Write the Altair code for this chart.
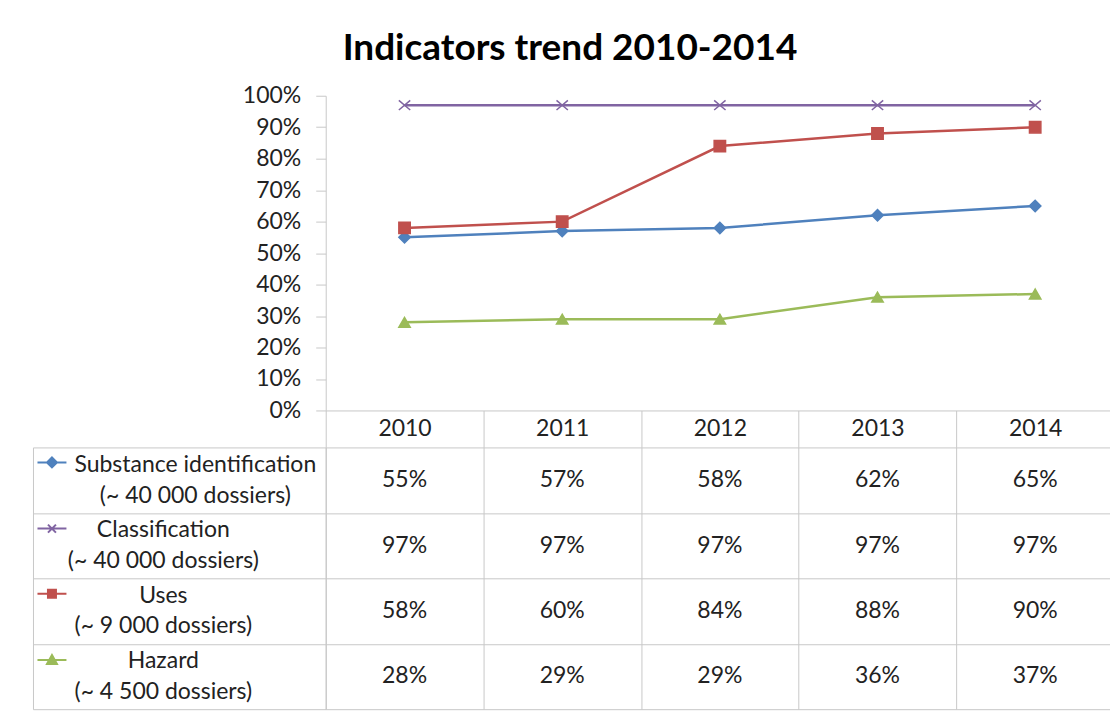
import altair as alt
import pandas as pd

# ---- data ----
years = ["2010", "2011", "2012", "2013", "2014"]
series = ["Substance identification", "Classification", "Uses", "Hazard"]
dossiers = ["(~ 40 000 dossiers)", "(~ 40 000 dossiers)", "(~ 9 000 dossiers)", "(~ 4 500 dossiers)"]
substance = [55, 57, 58, 62, 65]
classification = [97, 97, 97, 97, 97]
uses = [58, 60, 84, 88, 90]
hazard = [28, 29, 29, 36, 37]
colors = ["#4F81BD", "#8064A2", "#C0504D", "#9BBB59"]

values = [substance, classification, uses, hazard]
rowlabels = [s + "\n" + d for s, d in zip(series, dossiers)]

rows = []
for s, rl, vals in zip(series, rowlabels, values):
    for y, v in zip(years, vals):
        rows.append({"series": s, "rowlabel": rl, "year": y, "value": v / 100, "text": f"{v}%"})
df = pd.DataFrame(rows)
df_series = pd.DataFrame({"series": series, "rowlabel": rowlabels})

FONT = "Lato"
TXT = "#222222"
GRID = "#c8c8c8"
W, H_TOP, H_TBL = 789, 315, 262
LEFTCOL = 293

band = alt.Scale(type="band", paddingInner=0, paddingOuter=0)
xpath = "M-1,-0.85L1,0.85M-1,0.85L1,-0.85"

# ---- top line chart ----
x_top = alt.X("year:O", sort=years, scale=band,
              axis=alt.Axis(title=None, tickBand="extent", tickSize=37, tickColor=GRID,
                            domainColor=GRID, labelAngle=0, labelPadding=-18.5,
                            labelBaseline="middle", labelFontSize=23, labelFont=FONT,
                            labelColor=TXT))
y_top = alt.Y("value:Q", scale=alt.Scale(domain=[0, 1], nice=False),
              axis=alt.Axis(title=None, format=".0%", values=[i / 10 for i in range(11)],
                            grid=False, tickSize=10, tickColor=GRID, domainColor=GRID,
                            labelPadding=15, labelFontSize=23, labelFont=FONT,
                            labelColor=TXT))
col_scale = alt.Scale(domain=series, range=colors)

lines = alt.Chart(df).mark_line(strokeWidth=2.5).encode(
    x=x_top, y=y_top,
    color=alt.Color("series:N", sort=series, scale=col_scale, legend=None),
)
points = alt.Chart(df).mark_point(filled=True, size=130, strokeWidth=1.5, opacity=1).encode(
    x=x_top, y=y_top,
    fill=alt.Fill("series:N", sort=series, scale=col_scale, legend=None),
    stroke=alt.Stroke("series:N", sort=series, scale=col_scale, legend=None),
    shape=alt.Shape("series:N", sort=series,
                    scale=alt.Scale(domain=series, range=["diamond", xpath, "square", "triangle-up"]),
                    legend=None),
)
top = alt.layer(lines, points).properties(
    width=W, height=H_TOP,
    title=alt.TitleParams("Indicators trend 2010-2014", fontSize=37, font=FONT,
                          fontWeight="bold", color="#000000", anchor="middle",
                          frame="group", dx=-150, offset=17),
)

# ---- data table ----
leg_paths = [
    "M-2.9,0H2.9M0,-1L1,0L0,1L-1,0Z",
    "M-2.9,0H2.9M-0.8,-0.8L0.8,0.8M-0.8,0.8L0.8,-0.8",
    "M-2.9,0H2.9M-0.8,-0.8H0.8V0.8H-0.8Z",
    "M-2.9,0H2.9M0,-1L1,0.8H-1Z",
]
leg = alt.Legend(orient="none", legendX=-280, legendY=9, title=None, labelExpr="''",
                 labelFontSize=1, symbolSize=100, symbolStrokeWidth=2, symbolOpacity=1,
                 rowPadding=49.25, padding=0)

first_row = "isString(datum.value) && indexof(datum.value, 'Substance') === 0"
other_row = "isString(datum.value) && indexof(datum.value, 'Substance') < 0"
lbl = dict(labelAlign="center", labelBaseline="middle", labelLineHeight=31, labelFontSize=23,
           labelFont=FONT, labelColor=TXT, labelLimit=0, labelOffset=-15.5)

tbl_text = alt.Chart(df).mark_text(fontSize=23, font=FONT, color=TXT).encode(
    x=alt.X("year:O", sort=years, scale=band,
            axis=alt.Axis(orient="bottom", title=None, grid=True, gridColor=GRID, tickBand="extent",
                          labels=False, ticks=False, domain=False)),
    y=alt.Y("rowlabel:N", sort=rowlabels, scale=band,
            axis=alt.Axis(title=None, grid=True, gridColor=GRID, tickBand="extent",
                          tickSize=LEFTCOL, tickColor=GRID, domainColor=GRID,
                          labelExpr=first_row + " ? split(datum.value, '\\n') : ''",
                          labelPadding=-162, **lbl)),
    text="text:N",
)
sym = alt.Chart(df_series).mark_point(filled=True, opacity=0).encode(
    y=alt.Y("rowlabel:N", sort=rowlabels, scale=band,
            axis=alt.Axis(orient="left", offset=LEFTCOL, title=None, grid=False, ticks=False,
                          tickSize=0, domain=True, domainColor=GRID,
                          labelExpr=other_row + " ? split(datum.value, '\\n') : ''",
                          labelPadding=-130, **lbl)),
    fill=alt.Fill("series:N", sort=series, scale=alt.Scale(domain=series, range=colors), legend=leg),
    stroke=alt.Stroke("series:N", sort=series, scale=alt.Scale(domain=series, range=colors), legend=leg),
    shape=alt.Shape("series:N", sort=series, scale=alt.Scale(domain=series, range=leg_paths), legend=leg),
)
table = alt.layer(tbl_text, sym).resolve_scale(y="independent").properties(width=W, height=H_TBL)

chart = alt.vconcat(top, table, spacing=37, bounds="flush").resolve_scale(
    fill="independent", stroke="independent", shape="independent", color="independent"
).properties(
    padding={"left": 24, "top": 20.5, "right": -5, "bottom": 0},
    background="white",
).configure_view(stroke="transparent")

chart.save("out.html", embed_options={"renderer": "svg", "actions": False})
